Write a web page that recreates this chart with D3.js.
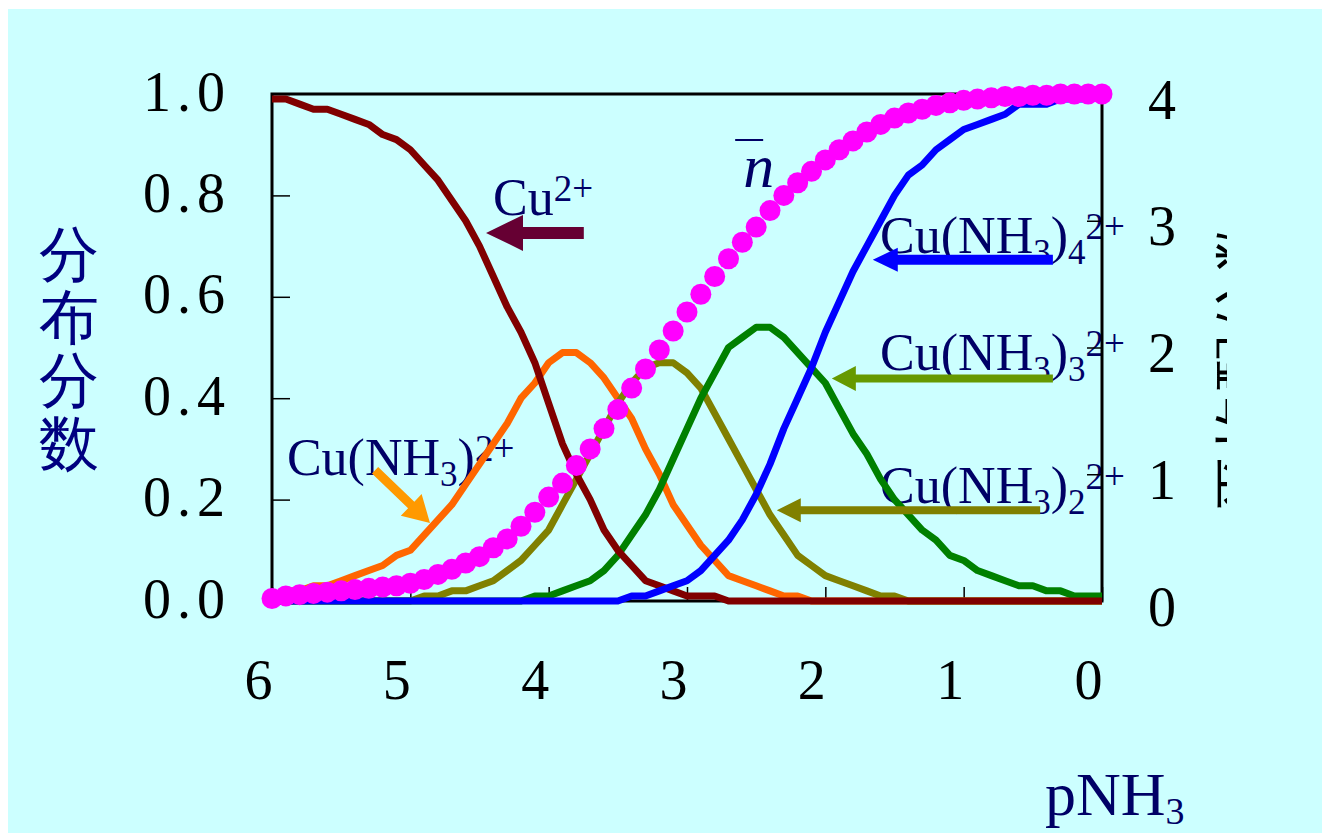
<!DOCTYPE html>
<html lang="zh">
<head>
<meta charset="utf-8">
<script src="https://d3js.org/d3.v7.min.js"></script>
<style>
  body { margin: 0; background: #ffffff; overflow: hidden; }
  svg text { font-family: "Liberation Serif", "Times New Roman", serif; }
</style>
</head>
<body>
<script>
// pNH3 runs from 6 down to 0 in steps of 0.1
const pNH3 = [6.0,5.9,5.8,5.7,5.6,5.5,5.4,5.3,5.2,5.1,
  5.0,4.9,4.8,4.7,4.6,4.5,4.4,4.3,4.2,4.1,
  4.0,3.9,3.8,3.7,3.6,3.5,3.4,3.3,3.2,3.1,
  3.0,2.9,2.8,2.7,2.6,2.5,2.4,2.3,2.2,2.1,
  2.0,1.9,1.8,1.7,1.6,1.5,1.4,1.3,1.2,1.1,
  1.0,0.9,0.8,0.7,0.6,0.5,0.4,0.3,0.2,0.1,0.0];

// distribution fractions
const cu0 = [0.99,0.99,0.98,0.97,0.97,0.96,0.95,0.94,0.92,0.91,
  0.89,0.86,0.83,0.79,0.75,0.70,0.64,0.58,0.53,0.47,
  0.39,0.31,0.25,0.20,0.14,0.10,0.07,0.04,0.03,0.02,
  0.01,0.01,0.01,0,0,0,0,0,0,0,
  0,0,0,0,0,0,0,0,0,0,
  0,0,0,0,0,0,0,0,0,0,0];
const cu1 = [0.01,0.02,0.02,0.03,0.03,0.04,0.05,0.06,0.07,0.09,
  0.10,0.13,0.16,0.19,0.23,0.27,0.31,0.35,0.40,0.43,
  0.47,0.49,0.49,0.47,0.44,0.40,0.36,0.30,0.25,0.19,
  0.15,0.11,0.08,0.05,0.04,0.03,0.02,0.01,0.01,0,
  0,0,0,0,0,0,0,0,0,0,
  0,0,0,0,0,0,0,0,0,0,0];
const cu2 = [0,0,0,0,0,0,0,0,0,0,
  0,0.01,0.01,0.02,0.02,0.03,0.04,0.06,0.08,0.11,
  0.14,0.19,0.24,0.29,0.34,0.39,0.43,0.46,0.47,0.47,
  0.45,0.42,0.37,0.32,0.27,0.22,0.17,0.13,0.09,0.07,
  0.05,0.04,0.03,0.02,0.01,0.01,0,0,0,0,
  0,0,0,0,0,0,0,0,0,0,0];
const cu3 = [0,0,0,0,0,0,0,0,0,0,
  0,0,0,0,0,0,0,0,0,0.01,
  0.01,0.02,0.03,0.04,0.06,0.09,0.13,0.17,0.22,0.28,
  0.34,0.40,0.45,0.50,0.52,0.54,0.54,0.52,0.49,0.46,
  0.43,0.38,0.33,0.29,0.24,0.20,0.17,0.14,0.12,0.09,
  0.08,0.06,0.05,0.04,0.03,0.03,0.02,0.02,0.01,0.01,0.01];
const cu4 = [0,0,0,0,0,0,0,0,0,0,
  0,0,0,0,0,0,0,0,0,0,
  0,0,0,0,0,0,0.01,0.01,0.02,0.03,
  0.04,0.06,0.09,0.12,0.16,0.21,0.27,0.34,0.40,0.46,
  0.53,0.59,0.65,0.70,0.75,0.80,0.84,0.86,0.89,0.91,
  0.93,0.94,0.95,0.96,0.98,0.98,0.98,0.99,0.99,0.99,1.00];
// average ligand number n-bar (right axis)
const nbar = [0.02,0.04,0.05,0.06,0.07,0.08,0.09,0.10,0.11,0.12,
  0.14,0.17,0.21,0.25,0.30,0.35,0.42,0.49,0.59,0.70,
  0.82,0.93,1.07,1.20,1.36,1.51,1.68,1.83,1.98,2.13,
  2.28,2.42,2.56,2.70,2.83,2.95,3.08,3.20,3.30,3.39,
  3.48,3.56,3.63,3.70,3.76,3.81,3.85,3.88,3.91,3.93,
  3.95,3.96,3.97,3.98,3.98,3.99,3.99,4.00,4.00,4.00,4.00];

const xTicks = [6,5,4,3,2,1,0];
const yTicks = [0,0.2,0.4,0.6,0.8,1.0];
const rTicks = [0,1,2,3,4];

const W = 1322, H = 833;
const navy = "#000066";

const svg = d3.select("body").append("svg")
  .attr("width", W).attr("height", H);

// cyan slide background
svg.append("rect").attr("x", 8).attr("y", 9)
  .attr("width", W - 8).attr("height", H - 9).attr("fill", "#CCFFFF");

// scales
const x = d3.scaleLinear().domain([6, 0]).range([272, 1102]);
const y = d3.scaleLinear().domain([0, 1]).range([601, 94]);
const yR = d3.scaleLinear().domain([0, 4]).range([601, 94]);

// axis titles
const yt = svg.append("text")
  .attr("font-family", "'Noto Sans CJK SC', sans-serif")
  .attr("font-size", 60).attr("fill", "#000080")
  .attr("text-anchor", "middle");
["分","布","分","数"].forEach((c, i) => {
  yt.append("tspan").attr("x", 69).attr("y", 275 + i * 63).text(c);
});

// right title, clipped like in the slide
svg.append("clipPath").attr("id", "rclip")
  .append("rect").attr("x", 1205).attr("y", 190).attr("width", 22).attr("height", 340);
svg.append("g").attr("clip-path", "url(#rclip)")
  .append("text")
  .attr("transform", "translate(1262,362) rotate(-90)")
  .attr("text-anchor", "middle")
  .attr("font-family", "'Noto Sans CJK SC', sans-serif")
  .attr("font-size", 58).attr("letter-spacing", 2).attr("fill", "#000000")
  .text("平均配位数");

const xt = svg.append("text").attr("x", 1045).attr("y", 815)
  .attr("font-size", 62).attr("fill", navy);
xt.append("tspan").text("pNH");
xt.append("tspan").attr("font-size", 38).attr("dy", 9).text("3");

// species labels (drawn under the curves)
const labels = [
  {at: [4.402, 0.761], parts: [["Cu", 0], ["2+", "sup"]]},
  {at: [5.892, 0.2485], parts: [["Cu(NH", 0], ["3", "sub"], [")", 0], ["2+", "sup"]]},
  {at: [1.604, 0.686], parts: [["Cu(NH", 0], ["3", "sub"], [")", 0], ["4", "sub"], ["2+", "sup"]]},
  {at: [1.604, 0.4556], parts: [["Cu(NH", 0], ["3", "sub"], [")", 0], ["3", "sub"], ["2+", "sup"]]},
  {at: [1.604, 0.1933], parts: [["Cu(NH", 0], ["3", "sub"], [")", 0], ["2", "sub"], ["2+", "sup"]]}
];
const shift = {0: 0, sub: 11, sup: -14};
const fsz = {0: 52, sub: 35, sup: 37};
labels.forEach(l => {
  const t = svg.append("text").attr("x", x(l.at[0])).attr("y", y(l.at[1]))
    .attr("font-size", 52).attr("fill", navy);
  let cur = 0;
  l.parts.forEach(([s, k]) => {
    t.append("tspan").attr("font-size", fsz[k]).attr("dy", shift[k] - cur).text(s);
    cur = shift[k];
  });
});

// n-bar label
const nPos = [x(2.594), y(0.8166)];
svg.append("text").attr("x", nPos[0]).attr("y", nPos[1])
  .attr("font-size", 62).attr("font-style", "italic").attr("fill", navy).text("n");
svg.append("line").attr("x1", nPos[0] - 8).attr("x2", nPos[0] + 20)
  .attr("y1", nPos[1] - 47).attr("y2", nPos[1] - 47)
  .attr("stroke", navy).attr("stroke-width", 2);

// axes with inward ticks
function styleAxis(g) {
  g.select(".domain").remove();
  g.selectAll(".tick line").attr("stroke", "#000").attr("stroke-width", 1.5);
  g.selectAll(".tick text").attr("fill", "#000")
    .style("font-family", "'Liberation Serif', serif").style("font-size", "56px");
}
svg.append("g").attr("transform", "translate(272,0)")
  .call(d3.axisLeft(y).tickValues(yTicks).tickSize(-18).tickPadding(41)
    .tickFormat(d3.format(".1f")))
  .call(styleAxis)
  .call(g => g.selectAll(".tick text").attr("dy", 16).style("letter-spacing", "6px"));

svg.append("g").attr("transform", "translate(0,601)")
  .call(d3.axisBottom(x).tickValues(xTicks).tickSize(-14).tickFormat(d3.format("d")))
  .call(styleAxis)
  .call(g => g.selectAll(".tick text").attr("y", 98).attr("dy", 0).attr("dx", -14));

svg.append("g").attr("transform", "translate(1102,0)")
  .call(d3.axisRight(yR).tickValues(rTicks).tickSize(-15).tickPadding(46)
    .tickFormat(d3.format("d")))
  .call(styleAxis)
  .call(g => g.selectAll(".tick text").attr("dy", 24));

// plot frame
svg.append("rect")
  .attr("x", x.range()[0]).attr("y", y.range()[1])
  .attr("width", x.range()[1] - x.range()[0]).attr("height", y.range()[0] - y.range()[1])
  .attr("fill", "none").attr("stroke", "#000").attr("stroke-width", 3);

// distribution curves
const series = [
  {vals: cu1, color: "#FF6600"},
  {vals: cu2, color: "#808000"},
  {vals: cu3, color: "#008000"},
  {vals: cu0, color: "#800000"},
  {vals: cu4, color: "#0000FF"}
];
const line = d3.line().x(d => x(d[0])).y(d => y(d[1]));
series.forEach(s => {
  svg.append("path")
    .datum(pNH3.map((p, i) => [p, s.vals[i]]))
    .attr("fill", "none").attr("stroke", s.color).attr("stroke-width", 7)
    .attr("stroke-linejoin", "round")
    .attr("d", line);
});

// n-bar dots
svg.append("g").selectAll("circle")
  .data(pNH3.map((p, i) => [p, nbar[i]]))
  .join("circle")
  .attr("cx", d => x(d[0])).attr("cy", d => yR(d[1]))
  .attr("r", 10.5).attr("fill", "#FF00FF");

// block arrows pointing to the curves
const arrows = [
  {from: [3.746, 0.726], to: [4.453, 0.726], shaft: 12, head: 37, half: 18, color: "#660033"},
  {from: [5.255, 0.258], to: [4.858, 0.154], shaft: 9, head: 26, half: 15, color: "#FF9900"},
  {from: [0.355, 0.673], to: [1.657, 0.673], shaft: 10, head: 25, half: 12, color: "#0000FF"},
  {from: [0.355, 0.439], to: [1.953, 0.439], shaft: 8, head: 24, half: 12.5, color: "#669900"},
  {from: [0.447, 0.179], to: [2.351, 0.179], shaft: 8, head: 24, half: 12, color: "#808000"}
];
arrows.forEach(a => {
  const x1 = x(a.from[0]), y1 = y(a.from[1]), x2 = x(a.to[0]), y2 = y(a.to[1]);
  const len = Math.hypot(x2 - x1, y2 - y1);
  const ux = (x2 - x1) / len, uy = (y2 - y1) / len, nx = -uy, ny = ux;
  const bx = x2 - ux * a.head, by = y2 - uy * a.head, w = a.shaft / 2;
  const pts = [
    [x1 + nx * w, y1 + ny * w], [bx + nx * w, by + ny * w], [bx + nx * a.half, by + ny * a.half],
    [x2, y2],
    [bx - nx * a.half, by - ny * a.half], [bx - nx * w, by - ny * w], [x1 - nx * w, y1 - ny * w]
  ];
  svg.append("path").attr("d", "M" + pts.map(p => p.join(",")).join("L") + "Z")
    .attr("fill", a.color);
});
</script>
</body>
</html>
